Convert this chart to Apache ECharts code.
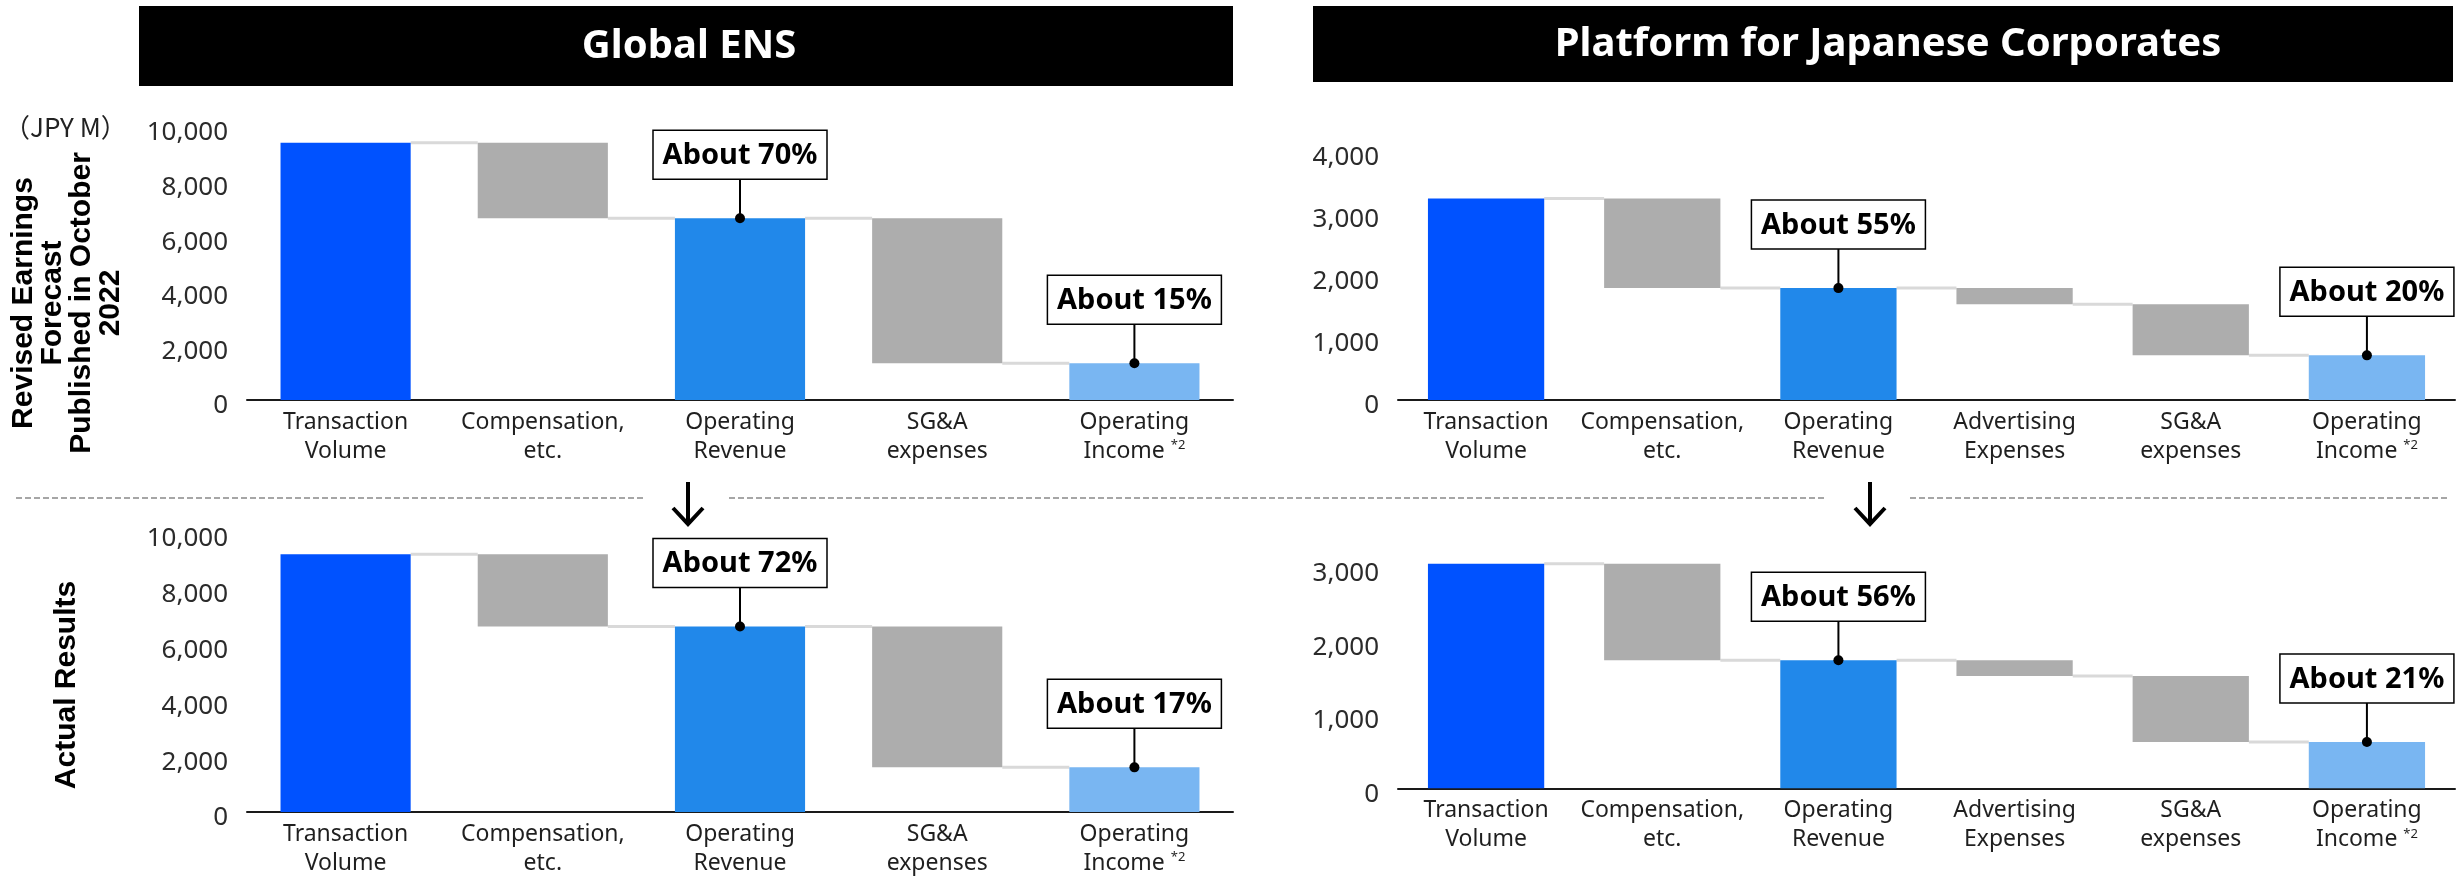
<!DOCTYPE html>
<html>
<head>
<meta charset="utf-8">
<title>Global ENS / Platform for Japanese Corporates</title>
<script src="https://cdn.jsdelivr.net/npm/echarts@6/dist/echarts.min.js"></script>
<style>
  html, body { margin: 0; padding: 0; background: #fff; }
  #chart { width: 2463px; height: 878px; }
</style>
</head>
<body>
<div id="chart"></div>
<script>
// ---- categories ----
const ensCategories = ['Transaction\nVolume', 'Compensation,\netc.', 'Operating\nRevenue', 'SG&A\nexpenses', 'Operating\nIncome *2'];
const jpCategories = ['Transaction\nVolume', 'Compensation,\netc.', 'Operating\nRevenue', 'Advertising\nExpenses', 'SG&A\nexpenses', 'Operating\nIncome *2'];

// ---- waterfall steps (JPY M): totals are positive, deductions negative ----
const ensKinds = ['total', 'minus', 'total', 'minus', 'total'];
const jpKinds = ['total', 'minus', 'total', 'minus', 'minus', 'total'];

const ensForecast = [9425, -2770, 6655, -5310, 1345];
const ensActual = [9240, -2590, 6650, -5050, 1600];
const jpForecast = [3250, -1445, 1805, -260, -825, 720];
const jpActual = [3050, -1310, 1740, -215, -895, 630];

// ---- margin callouts ----
const ensForecastNotes = [{ cat: 2, text: 'About 70%' }, { cat: 4, text: 'About 15%' }];
const ensActualNotes = [{ cat: 2, text: 'About 72%' }, { cat: 4, text: 'About 17%' }];
const jpForecastNotes = [{ cat: 2, text: 'About 55%' }, { cat: 5, text: 'About 20%' }];
const jpActualNotes = [{ cat: 2, text: 'About 56%' }, { cat: 5, text: 'About 21%' }];

// ---- value axis ticks ----
const ensTicks = { min: 0, max: 10000, interval: 2000 };
const jpForecastTicks = { min: 0, max: 4000, interval: 1000 };
const jpActualTicks = { min: 0, max: 3500, interval: 1000 };

// ---- colours ----
const COLOR_VOLUME = '#0052FF';
const COLOR_REVENUE = '#2188EA';
const COLOR_INCOME = '#79B6F2';
const COLOR_COST = '#ADADAD';
const COLOR_STEP = '#D9D9D9';

function barColor(kind, i, n) {
  if (kind === 'minus') return COLOR_COST;
  if (i === 0) return COLOR_VOLUME;
  if (i === n - 1) return COLOR_INCOME;
  return COLOR_REVENUE;
}

// running levels: [category, low, high, levelAfter]
function buildSteps(vals, kinds) {
  let level = 0;
  return vals.map((v, i) => {
    let lo, hi;
    if (kinds[i] === 'total') { lo = 0; hi = v; level = v; }
    else { hi = level; lo = level + v; level = lo; }
    return [i, lo, hi, level];
  });
}

const BAR_RATIO = 0.66;

function panelSeries(idx, vals, kinds, notes) {
  const steps = buildSteps(vals, kinds);
  const n = steps.length;
  const connectors = steps.slice(0, n - 1).map(s => [s[0], s[3]]);
  const noteData = notes.map(nt => [nt.cat, steps[nt.cat][2]]);
  return [
    {
      type: 'custom',
      xAxisIndex: idx, yAxisIndex: idx,
      data: connectors,
      z: 1,
      renderItem(params, api) {
        const i = api.value(0);
        const a = api.coord([i, api.value(1)]);
        const b = api.coord([i + 1, api.value(1)]);
        const w = api.size([1, 0])[0] * BAR_RATIO;
        return {
          type: 'line',
          shape: { x1: a[0] + w / 2, y1: a[1], x2: b[0] - w / 2, y2: b[1] },
          style: { stroke: COLOR_STEP, lineWidth: 3 }
        };
      }
    },
    {
      type: 'custom',
      xAxisIndex: idx, yAxisIndex: idx,
      data: steps,
      encode: { x: 0, y: [1, 2] },
      z: 2,
      renderItem(params, api) {
        const i = api.value(0);
        const top = api.coord([i, api.value(2)]);
        const bot = api.coord([i, api.value(1)]);
        const w = api.size([1, 0])[0] * BAR_RATIO;
        return {
          type: 'rect',
          shape: { x: top[0] - w / 2, y: top[1], width: w, height: bot[1] - top[1] },
          style: { fill: barColor(kinds[i], i, n) }
        };
      }
    },
    {
      type: 'custom',
      xAxisIndex: idx, yAxisIndex: idx,
      data: noteData,
      z: 5,
      renderItem(params, api) {
        const c = api.coord([api.value(0), api.value(1)]);
        const bw = 174, bh = 49, gap = 39;
        const text = notes[params.dataIndex].text;
        return {
          type: 'group',
          children: [
            { type: 'line', shape: { x1: c[0], y1: c[1], x2: c[0], y2: c[1] - gap }, style: { stroke: '#000', lineWidth: 2 } },
            { type: 'circle', shape: { cx: c[0], cy: c[1], r: 5 }, style: { fill: '#000' } },
            { type: 'rect', shape: { x: c[0] - bw / 2, y: c[1] - gap - bh, width: bw, height: bh }, style: { fill: '#fff', stroke: '#000', lineWidth: 1.5 } },
            { type: 'text', x: c[0], y: c[1] - gap - bh / 2 + 1, style: { text: text, fill: '#000', font: 'bold 29px "Noto Sans"', align: 'center', verticalAlign: 'middle' } }
          ]
        };
      }
    }
  ];
}

function catAxis(idx, cats) {
  return {
    type: 'category', gridIndex: idx, data: cats,
    axisLine: { lineStyle: { color: '#1a1a1a', width: 2 } },
    axisTick: { show: false },
    axisLabel: {
      interval: 0, margin: 8, color: '#1f1f1f',
      fontFamily: 'Noto Sans', fontSize: 23, lineHeight: 29,
      formatter: v => v.replace('*2', '{sup|*2}'),
      rich: { sup: { fontSize: 13, fontFamily: 'Noto Sans', color: '#1f1f1f', padding: [0, 0, 12, 0] } }
    }
  };
}

// tick labels sit a few pixels below their value
function valAxis(idx, t, hideMax) {
  return {
    type: 'value', gridIndex: idx, min: t.min, max: t.max, interval: t.interval,
    axisLine: { show: false }, axisTick: { show: false }, splitLine: { show: false },
    axisLabel: {
      margin: 19, color: '#2b2b2b', fontFamily: 'Noto Sans', fontSize: 26,
      verticalAlign: 'top', lineHeight: 12, showMaxLabel: !hideMax,
      formatter: v => v.toLocaleString('en-US')
    }
  };
}

function arrow(x) {
  return [
    { type: 'line', shape: { x1: x, y1: 482, x2: x, y2: 524 }, style: { stroke: '#000', lineWidth: 4 } },
    { type: 'polyline', shape: { points: [[x - 15, 508], [x, 524], [x + 15, 508]] }, style: { stroke: '#000', lineWidth: 4, fill: null } }
  ];
}

function dashed(x1, x2) {
  return { type: 'line', shape: { x1: x1, y1: 498, x2: x2, y2: 498 }, style: { stroke: '#A6A6A6', lineWidth: 2, lineDash: [6, 3] } };
}

const chart = echarts.init(document.getElementById('chart'), null, { renderer: 'canvas' });

chart.setOption({
  animation: false,
  backgroundColor: '#fff',
  grid: [
    { left: 247, width: 986, top: 127, height: 273, outerBoundsMode: 'none' },
    { left: 1398, width: 1057, top: 152, height: 248, outerBoundsMode: 'none' },
    { left: 247, width: 986, top: 533, height: 279, outerBoundsMode: 'none' },
    { left: 1398, width: 1057, top: 530.7, height: 257.6, outerBoundsMode: 'none' }
  ],
  xAxis: [
    catAxis(0, ensCategories),
    catAxis(1, jpCategories),
    catAxis(2, ensCategories),
    catAxis(3, jpCategories)
  ],
  yAxis: [
    valAxis(0, ensTicks, false),
    valAxis(1, jpForecastTicks, false),
    valAxis(2, ensTicks, false),
    valAxis(3, jpActualTicks, true)
  ],
  series: [
    ...panelSeries(0, ensForecast, ensKinds, ensForecastNotes),
    ...panelSeries(1, jpForecast, jpKinds, jpForecastNotes),
    ...panelSeries(2, ensActual, ensKinds, ensActualNotes),
    ...panelSeries(3, jpActual, jpKinds, jpActualNotes)
  ],
  graphic: [
    // section headers
    { type: 'rect', shape: { x: 139, y: 6, width: 1094, height: 80 }, style: { fill: '#000' } },
    { type: 'rect', shape: { x: 1313, y: 6, width: 1140, height: 76 }, style: { fill: '#000' } },
    { type: 'text', x: 689, y: 47, style: { text: 'Global ENS', fill: '#fff', font: 'bold 40px "Noto Sans"', align: 'center', verticalAlign: 'middle' } },
    { type: 'text', x: 1888, y: 45, style: { text: 'Platform for Japanese Corporates', fill: '#fff', font: 'bold 40px "Noto Sans"', align: 'center', verticalAlign: 'middle' } },
    // unit
    { type: 'text', x: 4, y: 127, style: { text: '（JPY M）', fill: '#222', font: '26px "Noto Sans CJK JP"', align: 'left', verticalAlign: 'middle' } },
    // row titles
    { type: 'text', x: 67, y: 303, rotation: Math.PI / 2,
      style: { text: 'Revised Earnings\nForecast\nPublished in October\n2022', fill: '#000', font: 'bold 30px "Liberation Sans"', lineHeight: 29, align: 'center', verticalAlign: 'middle' } },
    { type: 'text', x: 67, y: 685, rotation: Math.PI / 2,
      style: { text: 'Actual Results', fill: '#000', font: 'bold 30px "Liberation Sans"', align: 'center', verticalAlign: 'middle' } },
    // separators and arrows
    dashed(16, 645), dashed(729, 1826), dashed(1910, 2447),
    ...arrow(688), ...arrow(1870)
  ]
});
</script>
</body>
</html>
